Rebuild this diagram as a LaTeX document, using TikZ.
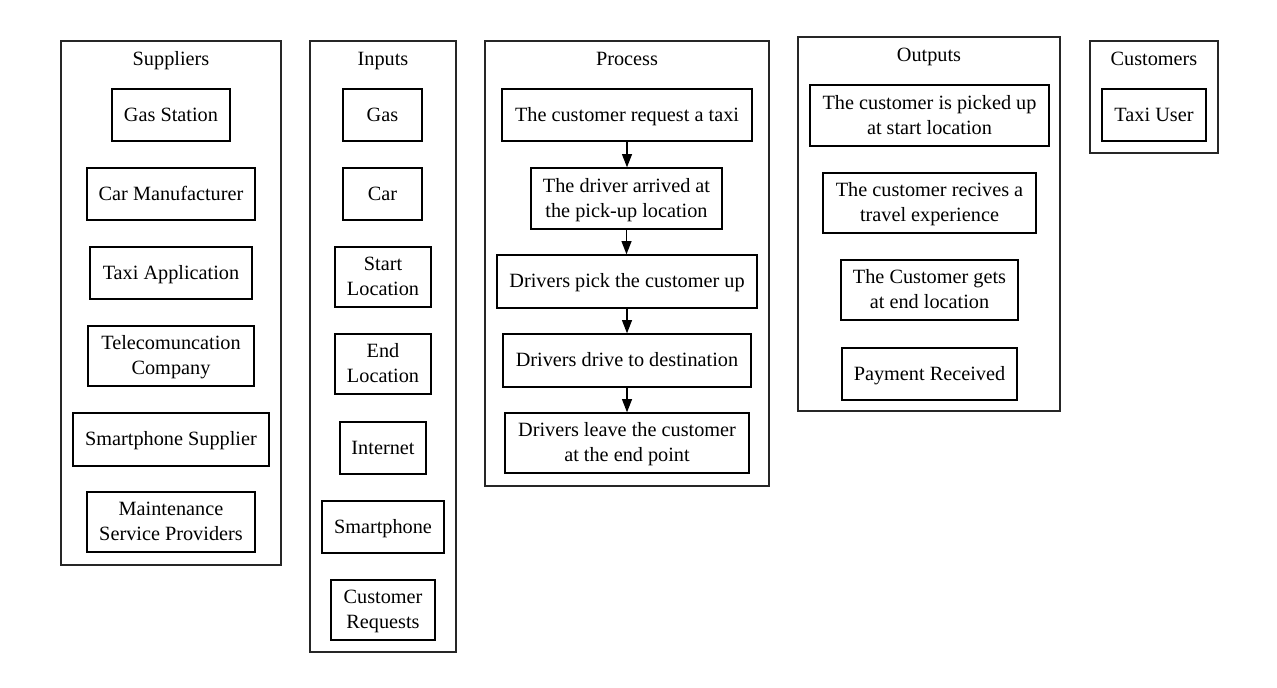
\documentclass[tikz,border=0pt]{standalone}
\usepackage{fontspec}
\setmainfont{Liberation Serif}
\usetikzlibrary{arrows.meta}
\newcommand\lnstrut{\rule[-4.875pt]{0pt}{18.75pt}}
\tikzset{
  box/.style={draw=black, line width=1pt, inner sep=0pt},
  txt/.style={inner sep=0pt, align=center, font=\fontsize{15.2}{18.75}\selectfont},
  cluster/.style={draw=black!85, line width=1pt, inner sep=0pt},
  ctitle/.style={inner sep=0pt, anchor=base, font=\fontsize{15.2}{18.75}\selectfont},
  arr/.style={line width=1pt, -{Triangle[length=10pt,width=7.5pt]}}
}
\newcommand\mkbox[7]{\node[#1, minimum width={(#5-#3)*0.75pt}, minimum height={(#6-#4)*0.75pt}, label={[txt]center:{#7}}] (#2) at ({(#3+#5)/2},{(#4+#6)/2}) {};}
\begin{document}
\begin{tikzpicture}[x=0.75pt,y=-0.75pt]
\useasboundingbox[fill=white] (0,0) rectangle (1277,687);
% clusters
\mkbox{cluster}{csup}{61}{41}{281}{565}{}
\mkbox{cluster}{cin}{310}{41}{456}{652}{}
\mkbox{cluster}{cpro}{485}{41}{769}{486}{}
\mkbox{cluster}{cout}{798}{37}{1060}{411}{}
\mkbox{cluster}{ccus}{1090}{41}{1218}{153}{}
\node[ctitle] (tsup) at (171,65) {Suppliers};
\node[ctitle] (tin) at (383,65) {Inputs};
\node[ctitle] (tpro) at (627,65) {Process};
\node[ctitle] (tout) at (929,61.5) {Outputs};
\node[ctitle] (tcus) at (1154,65) {Customers};
% suppliers
\mkbox{box}{s1}{112}{89}{230}{141}{\lnstrut Gas Station}
\mkbox{box}{s2}{87}{168}{255}{220}{\lnstrut Car Manufacturer}
\mkbox{box}{s3}{90}{247}{252}{299}{\lnstrut Taxi Application}
\mkbox{box}{s4}{88}{326}{254}{386}{\lnstrut Telecomuncation\\\lnstrut Company}
\mkbox{box}{s5}{73}{413}{269}{466}{\lnstrut Smartphone Supplier}
\mkbox{box}{s6}{87}{492}{255}{552}{\lnstrut Maintenance\\\lnstrut Service Providers}
% inputs
\mkbox{box}{i1}{343}{89}{422}{141}{\lnstrut Gas}
\mkbox{box}{i2}{343}{168}{422}{220}{\lnstrut Car}
\mkbox{box}{i3}{335}{247}{431}{307}{\lnstrut Start\\\lnstrut Location}
\mkbox{box}{i4}{335}{334}{431}{394}{\lnstrut End\\\lnstrut Location}
\mkbox{box}{i5}{340}{422}{426}{474}{\lnstrut Internet}
\mkbox{box}{i6}{322}{501}{444}{553}{\lnstrut Smartphone}
\mkbox{box}{i7}{331}{580}{435}{640}{\lnstrut Customer\\\lnstrut Requests}
% process
\mkbox{box}{p1}{502}{89}{752}{141}{\lnstrut The customer request a taxi}
\mkbox{box}{p2}{531}{168}{722}{229}{\lnstrut The driver arrived at\\\lnstrut the pick-up location}
\mkbox{box}{p3}{497}{255}{757}{308}{\lnstrut Drivers pick the customer up}
\mkbox{box}{p4}{503}{334}{751}{387}{\lnstrut Drivers drive to destination}
\mkbox{box}{p5}{505}{413}{749}{473}{\lnstrut Drivers leave the customer\\\lnstrut at the end point}
% outputs
\mkbox{box}{o1}{810}{85}{1049}{146}{\lnstrut The customer is picked up\\\lnstrut at start location}
\mkbox{box}{o2}{823}{173}{1036}{233}{\lnstrut The customer recives a\\\lnstrut travel experience}
\mkbox{box}{o3}{841}{260}{1018}{320}{\lnstrut The Customer gets\\\lnstrut at end location}
\mkbox{box}{o4}{842}{348}{1017}{400}{\lnstrut Payment Received}
% customers
\mkbox{box}{c1}{1102}{89}{1206}{141}{\lnstrut Taxi User}
% arrows
\draw[arr] (p1.south) -- (p1.south |- p2.north);
\draw[arr] (p2.south) -- (p2.south |- p3.north);
\draw[arr] (p3.south) -- (p3.south |- p4.north);
\draw[arr] (p4.south) -- (p4.south |- p5.north);
\end{tikzpicture}
\end{document}
